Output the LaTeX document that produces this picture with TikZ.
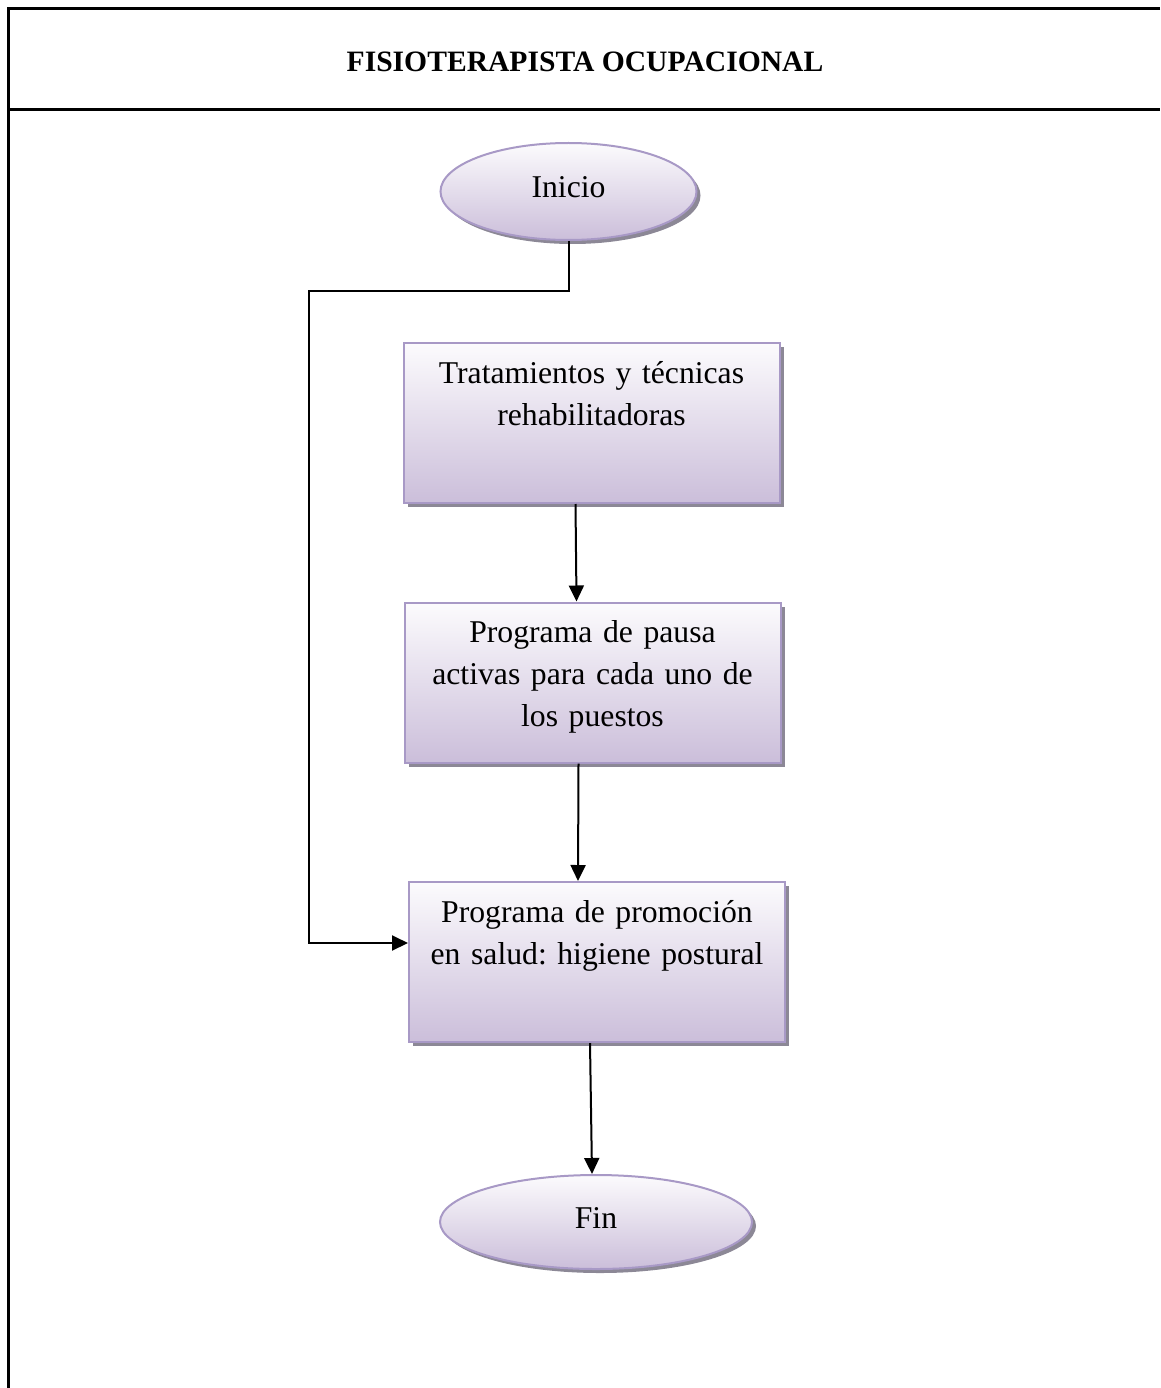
\documentclass[tikz,border=0pt]{standalone}
\usepackage{fontspec}
\setmainfont{Liberation Serif}
\usepackage{tikz}
\usetikzlibrary{arrows.meta,positioning,shapes.geometric,shadows}
\definecolor{lavline}{RGB}{168,153,198}
\definecolor{lavtop}{RGB}{252,251,253}
\definecolor{lavbot}{RGB}{203,190,218}
\definecolor{shadowgray}{RGB}{140,136,150}
\frenchspacing

\begin{document}
\begin{tikzpicture}[x=1pt, y=-1pt,
  frame/.style={line width=3pt},
  conn/.style={line width=2pt, -{Triangle[length=16pt,width=15pt]}},
  lavfill/.style={draw=lavline, line width=2pt, top color=lavtop, bottom color=lavbot,
    drop shadow={shadow xshift=4pt, shadow yshift=-4pt, fill=shadowgray, opacity=1}},
  procbox/.style={lavfill, text width=350pt, align=center, inner xsep=13pt, inner ysep=14pt,
    text height=26pt, text depth=106pt, font=\fontsize{31.7pt}{42pt}\selectfont},
  terminal/.style={lavfill, ellipse, inner sep=0pt, text height=22pt, text depth=10pt,
    font=\fontsize{31.7pt}{38pt}\selectfont}]
\useasboundingbox (0,0) rectangle (1160,1388);
\draw[frame] (1160,9) -- (8,9) -- (8,1388);
\draw[frame] (8,110) -- (1160,110);
\node[font=\bfseries\fontsize{29.6pt}{36pt}\selectfont] (title) at (585,62) {FISIOTERAPISTA OCUPACIONAL};
\node[terminal, minimum width=256pt, minimum height=97pt] (inicio) at (568.5,191.5) {Inicio};
\node[procbox] (trat) at (591.5,423) {Tratamientos y técnicas\\rehabilitadoras};
\node[procbox] (pausas) at (592.5,682.5) {Programa de pausa\\activas para cada uno de\\los puestos};
\node[procbox] (promo) at (597,962) {Programa de promoción\\en salud: higiene postural};
\node[terminal, minimum width=312pt, minimum height=94pt] (fin) at (596,1222) {Fin};
\coordinate (bend) at (309,291);
\draw[conn] (inicio.south) |- (bend) |- ([yshift=19pt]promo.west);
\draw[conn] ([xshift=-16pt]trat.south) -- ([xshift=-16pt]pausas.north);
\draw[conn] ([xshift=-14pt]pausas.south) -- ([xshift=-19pt]promo.north);
\draw[conn] ([xshift=-7pt]promo.south) -- ([xshift=-4pt]fin.north);
\end{tikzpicture}
\end{document}
